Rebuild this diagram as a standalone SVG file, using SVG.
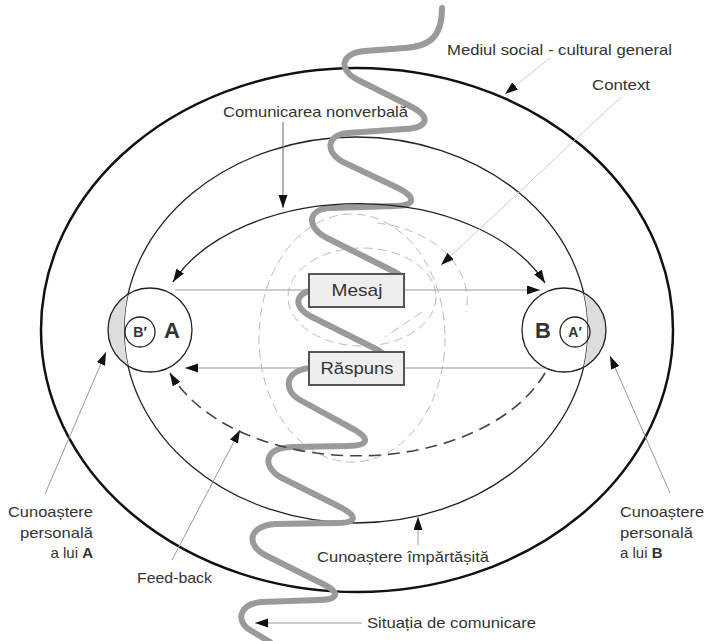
<svg xmlns="http://www.w3.org/2000/svg" width="705" height="641" viewBox="0 0 705 641">
<style>
text{font-family:"Liberation Sans",Arial,sans-serif;fill:#333;}
.lbl{font-size:15px;}
.ring{fill:none;}
.lead{stroke:#999;stroke-width:1;fill:none;}
.faint{stroke:#ccc;stroke-width:1;fill:none;}
.gdash{stroke:#bbb;stroke-width:1;fill:none;stroke-dasharray:9 5;}
.box{fill:#eee;stroke:#555;stroke-width:2;}
.boxt{font-size:17px;text-anchor:middle;fill:#333;}
.circ{fill:none;stroke:#222;stroke-width:1.3;}
.lens{fill:#ddd;}
</style>
<defs>
<marker id="ah" markerUnits="userSpaceOnUse" markerWidth="14" markerHeight="10" refX="13" refY="4.5" orient="auto-start-reverse">
<path d="M0 0 L13 4.5 L0 9 Z" fill="#111"/>
</marker>
<clipPath id="outM">
<path clip-rule="evenodd" d="M0 0H705V641H0Z M124 330 a232 193 0 1 0 464 0 a232 193 0 1 0 -464 0Z"/>
</clipPath>
</defs>
<rect width="705" height="641" fill="#fff"/>

<g id="rings">
<ellipse id="mediul" class="ring" cx="357" cy="330" rx="316" ry="262" stroke="#111" stroke-width="2.5"/>
<ellipse id="context" class="ring" cx="356" cy="330" rx="232" ry="193" stroke="#222" stroke-width="1.3"/>
</g>

<g id="decor">
<ellipse class="gdash" cx="352" cy="338" rx="93" ry="124"/>
<ellipse class="gdash" cx="362" cy="297" rx="74" ry="49"/>
<path class="gdash" d="M 377 223 A 105 78 0 0 1 466 312" stroke-dasharray="12 6"/>
<path class="gdash" d="M 422 312 L 385 337"/>
</g>

<g id="lens">
<circle class="lens" cx="150" cy="330" r="42" clip-path="url(#outM)"/>
<circle class="lens" cx="564" cy="330" r="42" clip-path="url(#outM)"/>
</g>

<path id="situatie" d="M 442 8 C 442 35, 432 46, 405 48 L 365 51 C 340 53, 338 70, 358 80 L 410 106 C 432 117, 428 128, 405 129 L 348 133 C 326 135, 325 152, 343 162 L 398 188 C 418 198, 414 206, 395 206 L 330 208 C 308 209, 306 226, 325 237 L 395 272 C 410 280, 400 290, 380 290 L 318 290 C 295 291, 292 306, 310 316 L 378 350 C 395 360, 390 368, 370 368 L 312 368 C 285 369, 282 390, 300 400 L 355 430 C 372 440, 366 446, 348 446 L 292 447 C 264 448, 262 466, 280 477 L 342 508 C 360 518, 354 523, 336 523 L 275 524 C 248 526, 246 545, 265 555 L 325 585 C 342 594, 336 600, 318 600 L 262 602 C 238 604, 236 622, 250 630 L 270 642" fill="none" stroke="#9a9a9a" stroke-width="6" stroke-linecap="round" stroke-linejoin="round"/>

<g id="connectors">
<path d="M 173 282 A 201 127 0 0 1 545 283" fill="none" stroke="#222" stroke-width="1.3" marker-start="url(#ah)" marker-end="url(#ah)"/>
<path d="M 545 373 A 200 127 0 0 1 170 373" fill="none" stroke="#444" stroke-width="1.6" stroke-dasharray="12 7" marker-end="url(#ah)"/>
<line class="lead" x1="175" y1="290" x2="540" y2="290" marker-end="url(#ah)"/>
<line class="lead" x1="545" y1="368" x2="185" y2="368" marker-end="url(#ah)"/>
<line x1="283" y1="122" x2="283" y2="208" stroke="#666" stroke-width="1" marker-end="url(#ah)"/>
<line class="faint" x1="550" y1="58" x2="505" y2="94" marker-end="url(#ah)"/>
<line class="faint" x1="621" y1="97" x2="441" y2="265" marker-end="url(#ah)"/>
<line class="lead" x1="45" y1="494" x2="106" y2="352" marker-end="url(#ah)"/>
<line class="lead" x1="670" y1="493" x2="610" y2="356" marker-end="url(#ah)"/>
<line class="lead" x1="172" y1="560" x2="240" y2="430" marker-end="url(#ah)"/>
<line class="lead" x1="418" y1="545" x2="418" y2="517" marker-end="url(#ah)"/>
<line class="lead" x1="362" y1="623" x2="255" y2="623" marker-end="url(#ah)"/>
</g>

<g id="nodeA">
<circle class="circ" cx="150" cy="330" r="42"/>
<circle class="circ" cx="140" cy="332" r="15" stroke-width="1"/>
<text x="140" y="337" font-size="14" font-weight="bold" text-anchor="middle" fill="#111">B′</text>
<text x="172" y="338" font-size="22" font-weight="bold" text-anchor="middle" fill="#111">A</text>
</g>
<g id="nodeB">
<circle class="circ" cx="564" cy="330" r="42"/>
<circle class="circ" cx="575" cy="332" r="15" stroke-width="1"/>
<text x="575" y="337" font-size="14" font-weight="bold" text-anchor="middle" fill="#111">A′</text>
<text x="543" y="338" font-size="22" font-weight="bold" text-anchor="middle" fill="#111">B</text>
</g>
<g id="mesaj">
<rect class="box" x="309" y="274" width="95" height="33"/>
<text class="boxt" x="357" y="296" textLength="51" lengthAdjust="spacingAndGlyphs">Mesaj</text>
</g>
<g id="raspuns">
<rect class="box" x="309" y="352" width="95" height="33"/>
<text class="boxt" x="357" y="374" textLength="73" lengthAdjust="spacingAndGlyphs">Răspuns</text>
</g>

<g id="labels">
<text class="lbl" x="447" y="55" textLength="225" lengthAdjust="spacingAndGlyphs">Mediul social - cultural general</text>
<text class="lbl" x="592" y="90" textLength="58" lengthAdjust="spacingAndGlyphs">Context</text>
<text class="lbl" x="223" y="117" textLength="185" lengthAdjust="spacingAndGlyphs">Comunicarea nonverbală</text>
<g id="labelA">
<text class="lbl" x="93" y="517" text-anchor="end" textLength="85" lengthAdjust="spacingAndGlyphs">Cunoaștere</text>
<text class="lbl" x="93" y="538" text-anchor="end" textLength="73" lengthAdjust="spacingAndGlyphs">personală</text>
<text class="lbl" x="93" y="558" text-anchor="end">a lui <tspan font-weight="bold">A</tspan></text>
</g>
<g id="labelB">
<text class="lbl" x="620" y="517" textLength="84" lengthAdjust="spacingAndGlyphs">Cunoaștere</text>
<text class="lbl" x="620" y="538" textLength="73" lengthAdjust="spacingAndGlyphs">personală</text>
<text class="lbl" x="620" y="558">a lui <tspan font-weight="bold">B</tspan></text>
</g>
<text class="lbl" x="137" y="583" textLength="75" lengthAdjust="spacingAndGlyphs">Feed-back</text>
<text class="lbl" x="317" y="562" textLength="172" lengthAdjust="spacingAndGlyphs">Cunoaștere împărtășită</text>
<text class="lbl" x="367" y="628" textLength="169" lengthAdjust="spacingAndGlyphs">Situația de comunicare</text>
</g>
</svg>
